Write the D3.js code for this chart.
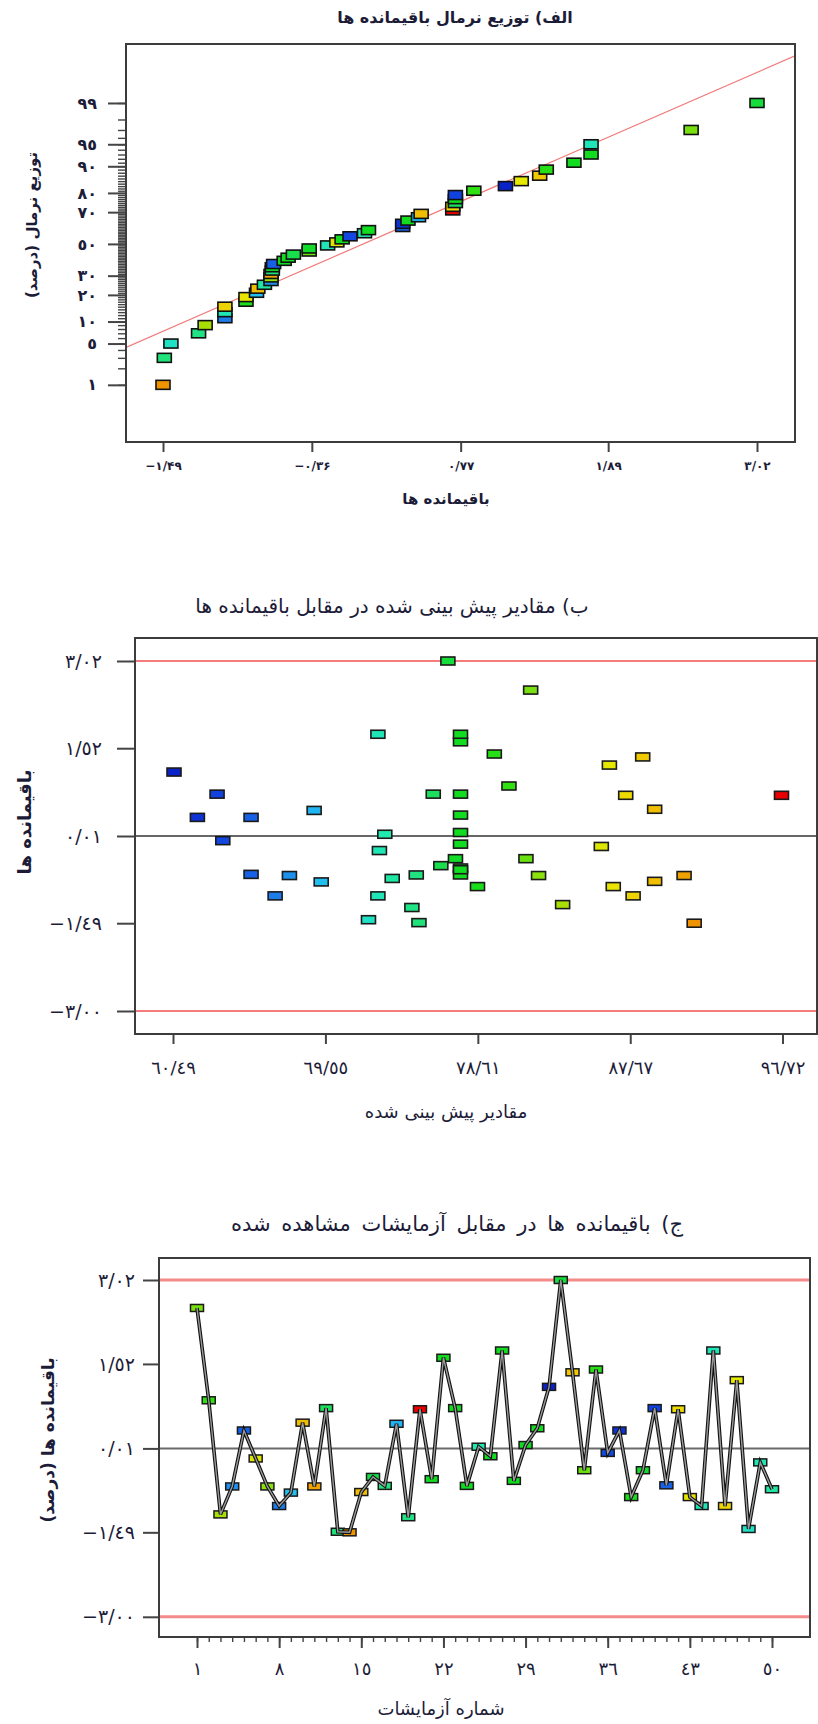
<!DOCTYPE html>
<html>
<head>
<meta charset="utf-8">
<script src="https://cdn.jsdelivr.net/npm/d3@7"></script>
<style>
    body { margin: 0; background: #fff; }
    svg { display: block; font-family: "DejaVu Sans", sans-serif; }
    .frame { fill: none; stroke: #3c3c3c; stroke-width: 2; }
    .axis path { display: none; }
    .axis line { stroke: #444; stroke-width: 2; }
    .axis text { fill: #1c1c38; }
    .lbl { fill: #1c1c38; }
</style>
</head>
<body>
<svg id="chart" width="818" height="1724"></svg>
<script>
(function() {
    'use strict';

    /******************************************************************
        data
     ******************************************************************/
    var runNumbers = d3.range(1, 51);

    // residual of every run, in run order (chart c)
    var residuals = [2.52, 0.87, -1.17, -0.67, 0.33, -0.17, -0.67, -1.02, -0.78, 0.47,
                     -0.67, 0.73, -1.48, -1.49, -0.77, -0.50, -0.66, 0.45, -1.22, 0.71,
                     -0.54, 1.63, 0.73, -0.66, 0.04, -0.13, 1.76, -0.57, 0.07, 0.37,
                     1.11, 3.02, 1.37, -0.38, 1.42, -0.07, 0.33, -0.86, -0.38, 0.73,
                     -0.65, 0.71, -0.86, -1.02, 1.76, -1.02, 1.23, -1.43, -0.24, -0.72];

    // predicted value of every run (chart b)
    var predicted = [81.75, 80.46, 83.65, 67.41, 65.13, 85.95, 82.22, 66.56, 69.30, 89.12,
                     90.87, 75.96, 75.11, 91.47, 89.12, 76.41, 74.95, 68.88, 74.69, 96.66,
                     77.58, 77.58, 77.58, 77.58, 73.08, 77.58, 77.58, 77.58, 77.58, 77.58,
                     60.55, 76.83, 88.41, 81.47, 79.59, 63.45, 61.94, 78.59, 77.28, 63.11,
                     65.13, 87.40, 86.66, 72.67, 72.67, 87.84, 86.43, 72.11, 72.76, 73.52];

    var probTicks = [1, 5, 10, 20, 30, 50, 70, 80, 90, 95, 99];
    var probMinor = d3.range(1, 100);
    var residTicks = [-1.49, -0.36, 0.77, 1.89, 3.02];
    var predTicks = [60.49, 69.55, 78.61, 87.67, 96.72];
    var limitTicks = [3.02, 1.52, 0.01, -1.49, -3.00];
    var runTicks = [1, 8, 15, 22, 29, 36, 43, 50];
    var limits = {upper: 3.02, centre: 0.01, lower: -3.00};

    /******************************************************************
        helpers
     ******************************************************************/
    function qnorm(p) {
        // inverse normal cdf (Acklam)
        var a = [-39.69683028665376, 220.9460984245205, -275.9285104469687, 138.3577518672690, -30.66479806614716, 2.506628277459239],
            b = [-54.47609879822406, 161.5858368580409, -155.6989798598866, 66.80131188771972, -13.28068155288572],
            c = [-0.007784894002430293, -0.3223964580411365, -2.400758277161838, -2.549732539343734, 4.374664141464968, 2.938163982698783],
            d = [0.007784695709041462, 0.3224671290700398, 2.445134137142996, 3.754408661907416],
            q, r;
        if (p < 0.02425 || p > 0.97575) {
            q = Math.sqrt(-2 * Math.log(p < 0.5 ? p : 1 - p));
            r = (((((c[0]*q+c[1])*q+c[2])*q+c[3])*q+c[4])*q+c[5]) / ((((d[0]*q+d[1])*q+d[2])*q+d[3])*q+1);
            return p < 0.5 ? r : -r;
        }
        q = p - 0.5; r = q * q;
        return (((((a[0]*r+a[1])*r+a[2])*r+a[3])*r+a[4])*r+a[5])*q /
               (((((b[0]*r+b[1])*r+b[2])*r+b[3])*r+b[4])*r+1);
    }

    function digits(set) {
        return function(s) {
            return String(s).replace(/[0-9]/g, function(ch) { return set[+ch]; })
                            .replace('.', '/').replace('-', '\u2212');
        };
    }
    var faNum = digits('۰۱۲۳۴٥۶۷۸۹'),
        arNum = digits('٠١٢٣٤٥٦٧٨٩'),
        f2 = d3.format('.2f');

    var colour = d3.scaleLinear()
        .domain([60.5, 63, 66, 68, 70, 73, 75.5, 77.5, 80.5, 82, 84, 86.5, 88.5, 91, 96.7])
        .range(['#0a22c8', '#1040e0', '#1a6ee8', '#20a0f0', '#20d0f0', '#20e8b0', '#20e070',
                '#10dc20', '#30e010', '#88e010', '#b0e000', '#e8e800', '#f0c800', '#f0a000', '#e80000']);

    var svg = d3.select('#chart');

    function styleAxis(g, size, weight, spacing) {
        g.attr('class', 'axis').attr('font-size', null).attr('font-family', null);
        g.selectAll('text')
            .style('font-size', size + 'px')
            .style('font-weight', weight)
            .style('letter-spacing', (spacing || 0) + 'px');
    }

    function title(txt, x, y, size, weight, rotate, spacing) {
        svg.append('text')
            .attr('class', 'lbl')
            .attr('direction', 'rtl')
            .attr('text-anchor', 'middle')
            .attr('transform', 'translate(' + [x, y] + ')' + (rotate ? ' rotate(-90)' : ''))
            .style('font-size', size + 'px')
            .style('font-weight', weight)
            .style('word-spacing', (spacing || 0) + 'px')
            .text(txt);
    }

    /******************************************************************
        a) normal probability plot of residuals
     ******************************************************************/
    var f1 = {left: 126, right: 795, top: 44, bottom: 442};
    var x1 = d3.scaleLinear().domain([-1.49, 3.02]).range([163, 757]);
    var y1 = d3.scaleLinear().domain([-3.27, 3.30]).range([f1.bottom, f1.top]);

    var order = d3.range(residuals.length).sort(function(a, b) { return residuals[a] - residuals[b]; });
    var probPts = order.map(function(k, i) {
        return {r: residuals[k], p: predicted[k], z: qnorm((i + 0.5) / order.length)};
    });

    svg.append('clipPath').attr('id', 'clip1')
        .append('rect')
            .attr('x', f1.left).attr('y', f1.top)
            .attr('width', f1.right - f1.left).attr('height', f1.bottom - f1.top);

    var m = d3.mean(residuals), s = d3.deviation(residuals);
    var v0 = x1.invert(f1.left), v1 = x1.invert(f1.right);
    svg.append('line')
        .attr('clip-path', 'url(#clip1)')
        .attr('x1', x1(v0)).attr('y1', y1((v0 - m) / s))
        .attr('x2', x1(v1)).attr('y2', y1((v1 - m) / s))
        .attr('stroke', '#f27a7a').attr('stroke-width', 1.2);

    svg.append('g')
        .attr('transform', 'translate(' + f1.left + ',0)')
        .call(d3.axisLeft(y1).tickValues(probMinor.map(function(p) { return qnorm(p / 100); }))
            .tickSize(8).tickFormat(''))
        .call(styleAxis, 12, 'bold')
        .selectAll('line').style('stroke-width', 1.4);

    svg.append('g')
        .attr('transform', 'translate(' + f1.left + ',0)')
        .call(d3.axisLeft(y1).tickValues(probTicks.map(function(p) { return qnorm(p / 100); }))
            .tickSize(18).tickPadding(11)
            .tickFormat(function(z, i) { return faNum(probTicks[i]); }))
        .call(styleAxis, 16, 'bold', 1.5);

    svg.append('g')
        .attr('transform', 'translate(0,' + f1.bottom + ')')
        .call(d3.axisBottom(x1).tickValues(residTicks).tickSize(10).tickPadding(9)
            .tickFormat(function(v) { return faNum(f2(v)); }))
        .call(styleAxis, 12, 'bold', 2.5);

    svg.append('rect').attr('class', 'frame')
        .attr('x', f1.left).attr('y', f1.top)
        .attr('width', f1.right - f1.left).attr('height', f1.bottom - f1.top);

    svg.append('g').selectAll('rect')
        .data(probPts)
        .enter().append('rect')
            .attr('x', function(d) { return x1(d.r) - 7; })
            .attr('y', function(d) { return y1(d.z) - 4.5; })
            .attr('width', 14).attr('height', 9)
            .attr('fill', function(d) { return colour(d.p); })
            .attr('stroke', '#111').attr('stroke-width', 1.6);

    title('الف) توزیع نرمال باقیمانده ها', 455, 23, 16, 'bold');
    title('باقیمانده ها', 446, 504, 15, 'bold');
    title('توزیع نرمال (درصد)', 37, 225, 15, 'bold', true);

    /******************************************************************
        b) residuals against predicted values
     ******************************************************************/
    var f2b = {left: 135, right: 817, top: 638, bottom: 1034};
    var x2 = d3.scaleLinear().domain([60.49, 96.72]).range([173, 782.5]);
    var y2 = d3.scaleLinear().domain([-3.00, 3.02]).range([1011, 661]);

    [limits.upper, limits.lower].forEach(function(v) {
        svg.append('line')
            .attr('x1', f2b.left).attr('x2', f2b.right)
            .attr('y1', y2(v)).attr('y2', y2(v))
            .attr('stroke', '#f47c7c').attr('stroke-width', 2);
    });
    svg.append('line')
        .attr('x1', f2b.left).attr('x2', f2b.right)
        .attr('y1', y2(limits.centre)).attr('y2', y2(limits.centre))
        .attr('stroke', '#666').attr('stroke-width', 2.2);

    svg.append('g')
        .attr('transform', 'translate(' + f2b.left + ',0)')
        .call(d3.axisLeft(y2).tickValues(limitTicks).tickSize(18).tickPadding(15)
            .tickFormat(function(v) { return arNum(f2(v)); }))
        .call(styleAxis, 19, 'normal', 3);

    svg.append('g')
        .attr('transform', 'translate(0,' + f2b.bottom + ')')
        .call(d3.axisBottom(x2).tickValues(predTicks).tickSize(10).tickPadding(17)
            .tickFormat(function(v) { return arNum(f2(v)); }))
        .call(styleAxis, 18, 'normal', 2.5);

    svg.append('rect').attr('class', 'frame')
        .attr('x', f2b.left).attr('y', f2b.top)
        .attr('width', f2b.right - f2b.left).attr('height', f2b.bottom - f2b.top);

    svg.append('g').selectAll('rect')
        .data(runNumbers)
        .enter().append('rect')
            .attr('x', function(i) { return x2(predicted[i - 1]) - 7; })
            .attr('y', function(i) { return y2(residuals[i - 1]) - 4; })
            .attr('width', 14).attr('height', 8)
            .attr('fill', function(i) { return colour(predicted[i - 1]); })
            .attr('stroke', '#1a1a1a').attr('stroke-width', 1.6);

    title('ب) مقادیر پیش بینی شده  در مقابل باقیمانده ها', 392, 613, 20, 'normal');
    title('مقادیر پیش بینی شده', 446, 1118, 18, 'normal');
    title('باقیمانده ها', 31, 822, 18, 'bold', true);

    /******************************************************************
        c) residuals against run order
     ******************************************************************/
    var f3 = {left: 159, right: 810, top: 1258, bottom: 1637};
    var x3 = d3.scaleLinear().domain([1, 50]).range([197, 772]);
    var y3 = d3.scaleLinear().domain([-3.00, 3.02]).range([1616.8, 1280]);

    [limits.upper, limits.lower].forEach(function(v) {
        svg.append('line')
            .attr('x1', f3.left).attr('x2', f3.right)
            .attr('y1', y3(v)).attr('y2', y3(v))
            .attr('stroke', '#f58a8a').attr('stroke-width', 3);
    });
    svg.append('line')
        .attr('x1', f3.left).attr('x2', f3.right)
        .attr('y1', y3(limits.centre)).attr('y2', y3(limits.centre))
        .attr('stroke', '#6a6a6a').attr('stroke-width', 2);

    svg.append('g')
        .attr('transform', 'translate(' + f3.left + ',0)')
        .call(d3.axisLeft(y3).tickValues(limitTicks).tickSize(16).tickPadding(8)
            .tickFormat(function(v) { return arNum(f2(v)); }))
        .call(styleAxis, 19, 'normal', 3);

    svg.append('g')
        .attr('transform', 'translate(0,' + f3.bottom + ')')
        .call(d3.axisBottom(x3).tickValues(runNumbers).tickSize(5).tickFormat(''))
        .call(styleAxis, 16, 'normal')
        .selectAll('line').style('stroke-width', 1.4);

    svg.append('g')
        .attr('transform', 'translate(0,' + f3.bottom + ')')
        .call(d3.axisBottom(x3).tickValues(runTicks).tickSize(11).tickPadding(14)
            .tickFormat(function(v) { return arNum(v); }))
        .call(styleAxis, 18, 'normal', 2.5);

    svg.append('rect').attr('class', 'frame')
        .attr('x', f3.left).attr('y', f3.top)
        .attr('width', f3.right - f3.left).attr('height', f3.bottom - f3.top);

    svg.append('g').selectAll('rect')
        .data(runNumbers)
        .enter().append('rect')
            .attr('x', function(i) { return x3(i) - 6.5; })
            .attr('y', function(i) { return y3(residuals[i - 1]) - 3.5; })
            .attr('width', 13).attr('height', 7)
            .attr('fill', function(i) { return colour(predicted[i - 1]); })
            .attr('stroke', '#1a1a1a').attr('stroke-width', 1.5);

    var runLine = d3.line()
        .x(function(i) { return x3(i); })
        .y(function(i) { return y3(residuals[i - 1]); });

    svg.append('path').datum(runNumbers)
        .attr('d', runLine)
        .attr('fill', 'none').attr('stroke', '#111').attr('stroke-width', 3.6);
    svg.append('path').datum(runNumbers)
        .attr('d', runLine)
        .attr('fill', 'none').attr('stroke', '#9a9a9a').attr('stroke-width', 1.4);

    title('ج) باقیمانده ها در مقابل آزمایشات مشاهده شده', 457, 1231, 21, 'normal', false, 4);
    title('شماره آزمایشات', 441, 1715, 18, 'normal');
    title('باقیمانده ها (درصد)', 54, 1440, 17, 'bold', true);
})();
</script>
</body>
</html>
